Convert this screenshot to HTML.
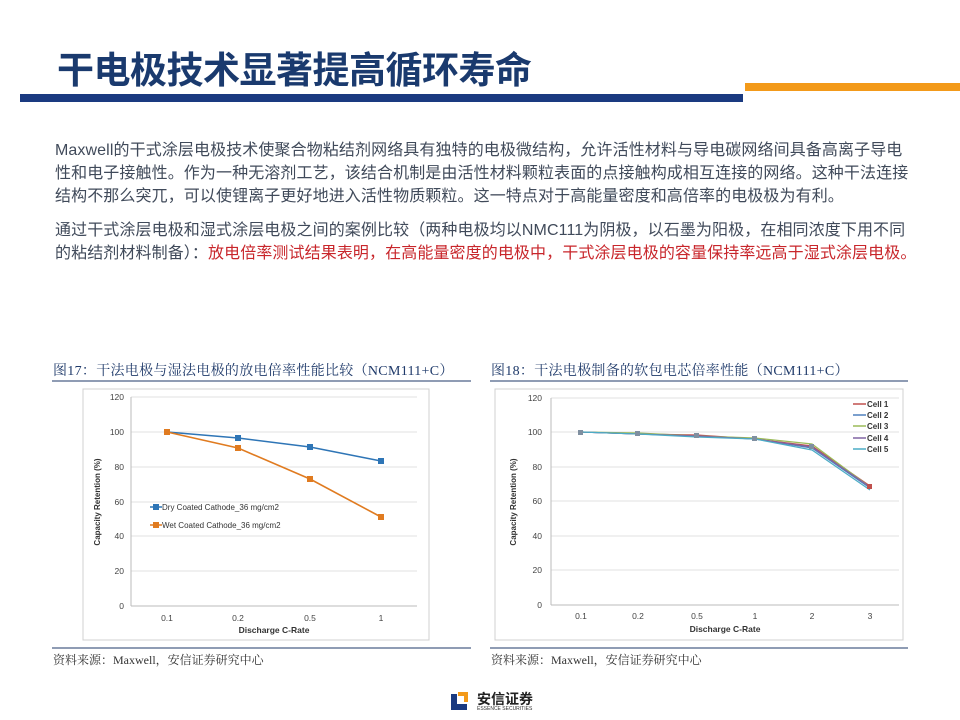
<!DOCTYPE html>
<html><head><meta charset="utf-8"><style>
body{margin:0;width:960px;height:720px;background:#fff;position:relative;overflow:hidden;font-family:"Liberation Sans","Noto Sans CJK SC",sans-serif;}
.a{position:absolute;white-space:nowrap;}
.p{left:55px;font-size:16px;color:#404a5a;letter-spacing:0.1px}
.cap{font-family:"Liberation Serif","Noto Serif CJK SC",serif;font-size:14px;color:#1f3a6a;letter-spacing:0.3px}
.src{font-family:"Liberation Serif","Noto Serif CJK SC",serif;font-size:12px;color:#333}
</style></head><body>
<div class="a" style="left:57px;top:40px;font-size:37px;font-weight:bold;color:#1a3a6e;letter-spacing:-0.5px">干电极技术显著提高循环寿命</div>
<div class="a" style="left:20px;top:94px;width:723px;height:8px;background:#1a3a80"></div>
<div class="a" style="left:745px;top:83px;width:215px;height:8px;background:#f39a1a"></div>
<div class="a p" style="top:136px">Maxwell的干式涂层电极技术使聚合物粘结剂网络具有独特的电极微结构，允许活性材料与导电碳网络间具备高离子导电</div>
<div class="a p" style="top:159px">性和电子接触性。作为一种无溶剂工艺，该结合机制是由活性材料颗粒表面的点接触构成相互连接的网络。这种干法连接</div>
<div class="a p" style="top:182px">结构不那么突兀，可以使锂离子更好地进入活性物质颗粒。这一特点对于高能量密度和高倍率的电极极为有利。</div>
<div class="a p" style="top:216px">通过干式涂层电极和湿式涂层电极之间的案例比较（两种电极均以NMC111为阴极，以石墨为阳极，在相同浓度下用不同</div>
<div class="a p" style="top:239px">的粘结剂材料制备）：<span style="color:#c8262b">放电倍率测试结果表明，在高能量密度的电极中，干式涂层电极的容量保持率远高于湿式涂层电极。</span></div>

<div class="a cap" style="left:53px;top:360px">图17：干法电极与湿法电极的放电倍率性能比较（NCM111+C）</div>
<div class="a cap" style="left:491px;top:360px">图18：干法电极制备的软包电芯倍率性能（NCM111+C）</div>

<svg class="a" style="left:0;top:0" width="960" height="720" font-family="Liberation Sans,sans-serif">
<line x1="52" y1="381" x2="471" y2="381" stroke="#1f3a6a" stroke-width="1"/>
<line x1="52" y1="648" x2="471" y2="648" stroke="#1f3a6a" stroke-width="1"/>
<line x1="490" y1="381" x2="908" y2="381" stroke="#1f3a6a" stroke-width="1"/>
<line x1="490" y1="648" x2="908" y2="648" stroke="#1f3a6a" stroke-width="1"/>
<!-- chart 1 -->
<rect x="83" y="389" width="346" height="251" fill="#fff" stroke="#d0d0d0"/>
<g stroke="#e2e2e2">
<line x1="131" y1="397" x2="417" y2="397"/><line x1="131" y1="432" x2="417" y2="432"/><line x1="131" y1="467" x2="417" y2="467"/><line x1="131" y1="502" x2="417" y2="502"/><line x1="131" y1="536" x2="417" y2="536"/><line x1="131" y1="571" x2="417" y2="571"/>
</g>
<line x1="131" y1="397" x2="131" y2="606" stroke="#bbb"/><line x1="131" y1="606" x2="417" y2="606" stroke="#bbb"/>
<g font-size="8.5" fill="#444" text-anchor="end"><text x="124" y="400">120</text><text x="124" y="435">100</text><text x="124" y="470">80</text><text x="124" y="505">60</text><text x="124" y="539">40</text><text x="124" y="574">20</text><text x="124" y="609">0</text></g>
<g font-size="8.5" fill="#444" text-anchor="middle"><text x="167" y="621">0.1</text><text x="238" y="621">0.2</text><text x="310" y="621">0.5</text><text x="381" y="621">1</text></g>
<text x="274" y="633" font-size="8.5" font-weight="bold" text-anchor="middle" fill="#333">Discharge C-Rate</text>
<text transform="translate(100,502) rotate(-90)" font-size="8" font-weight="bold" text-anchor="middle" fill="#333">Capacity Retention (%)</text>
<polyline points="167,432 238,438 310,447 381,461" fill="none" stroke="#2e75b6" stroke-width="1.6"/>
<polyline points="167,432 238,448 310,479 381,517" fill="none" stroke="#e07b20" stroke-width="1.6"/>
<g fill="#2e75b6"><rect x="164" y="429" width="6" height="6"/><rect x="235" y="435" width="6" height="6"/><rect x="307" y="444" width="6" height="6"/><rect x="378" y="458" width="6" height="6"/></g>
<g fill="#e07b20"><rect x="164" y="429" width="6" height="6"/><rect x="235" y="445" width="6" height="6"/><rect x="307" y="476" width="6" height="6"/><rect x="378" y="514" width="6" height="6"/></g>
<line x1="150" y1="507" x2="162" y2="507" stroke="#2e75b6" stroke-width="1.5"/><rect x="153" y="504" width="6" height="6" fill="#2e75b6"/>
<text x="162" y="510" font-size="8" fill="#333">Dry Coated Cathode_36 mg/cm2</text>
<line x1="150" y1="525" x2="162" y2="525" stroke="#e07b20" stroke-width="1.5"/><rect x="153" y="522" width="6" height="6" fill="#e07b20"/>
<text x="162" y="528" font-size="8" fill="#333">Wet Coated Cathode_36 mg/cm2</text>
<!-- chart 2 -->
<rect x="495" y="389" width="408" height="251" fill="#fff" stroke="#d0d0d0"/>
<g stroke="#e2e2e2">
<line x1="551" y1="398" x2="899" y2="398"/><line x1="551" y1="432" x2="899" y2="432"/><line x1="551" y1="467" x2="899" y2="467"/><line x1="551" y1="501" x2="899" y2="501"/><line x1="551" y1="536" x2="899" y2="536"/><line x1="551" y1="570" x2="899" y2="570"/>
</g>
<line x1="551" y1="398" x2="551" y2="605" stroke="#bbb"/><line x1="551" y1="605" x2="899" y2="605" stroke="#bbb"/>
<g font-size="8.5" fill="#444" text-anchor="end"><text x="542" y="401">120</text><text x="542" y="435">100</text><text x="542" y="470">80</text><text x="542" y="504">60</text><text x="542" y="539">40</text><text x="542" y="573">20</text><text x="542" y="608">0</text></g>
<g font-size="8.5" fill="#444" text-anchor="middle"><text x="581" y="619">0.1</text><text x="638" y="619">0.2</text><text x="697" y="619">0.5</text><text x="755" y="619">1</text><text x="812" y="619">2</text><text x="870" y="619">3</text></g>
<text x="725" y="632" font-size="8.5" font-weight="bold" text-anchor="middle" fill="#333">Discharge C-Rate</text>
<text transform="translate(516,502) rotate(-90)" font-size="8" font-weight="bold" text-anchor="middle" fill="#333">Capacity Retention (%)</text>
<polyline points="581,432 638,434 697,435 755,439 812,446 870,486" fill="none" stroke="#c0504d" stroke-width="1.2"/>
<polyline points="581,432 638,434 697,436 755,439 812,448 870,488" fill="none" stroke="#4f81bd" stroke-width="1.2"/>
<polyline points="581,432 638,433 697,436 755,438 812,444 870,487" fill="none" stroke="#9bbb59" stroke-width="1.2"/>
<polyline points="581,432 638,434 697,436 755,439 812,447 870,487" fill="none" stroke="#8064a2" stroke-width="1.2"/>
<polyline points="581,432 638,434 697,437 755,439 812,450 870,490" fill="none" stroke="#4bacc6" stroke-width="1.2"/>
<g fill="#7f8fa0"><rect x="578" y="430" width="5" height="5"/><rect x="635" y="431" width="5" height="5"/><rect x="694" y="433" width="5" height="5"/><rect x="752" y="436" width="5" height="5"/><rect x="809" y="444" width="5" height="5"/><rect x="867" y="484" width="5" height="5" fill="#c0504d"/></g>
<g font-size="8" font-weight="bold" fill="#333">
<line x1="853" y1="404" x2="866" y2="404" stroke="#c0504d" stroke-width="1.5"/><text x="867" y="407">Cell 1</text>
<line x1="853" y1="415" x2="866" y2="415" stroke="#4f81bd" stroke-width="1.5"/><text x="867" y="418">Cell 2</text>
<line x1="853" y1="426" x2="866" y2="426" stroke="#9bbb59" stroke-width="1.5"/><text x="867" y="429">Cell 3</text>
<line x1="853" y1="438" x2="866" y2="438" stroke="#8064a2" stroke-width="1.5"/><text x="867" y="441">Cell 4</text>
<line x1="853" y1="449" x2="866" y2="449" stroke="#4bacc6" stroke-width="1.5"/><text x="867" y="452">Cell 5</text>
</g>
<!-- logo -->
<path d="M451 694 h6 v10 h10 v6 h-16z" fill="#1a3a80"/>
<path d="M458 692 h10 v10 h-4 v-6 h-6z" fill="#f39a1a"/>
</svg>
<div class="a src" style="left:53px;top:651px">资料来源：Maxwell，安信证券研究中心</div>
<div class="a src" style="left:491px;top:651px">资料来源：Maxwell，安信证券研究中心</div>
<div class="a" style="left:477px;top:689px;font-size:14px;color:#222;font-weight:bold">安信证券</div>
<div class="a" style="left:477px;top:706px;font-size:5px;color:#333">ESSENCE SECURITIES</div>
</body></html>
